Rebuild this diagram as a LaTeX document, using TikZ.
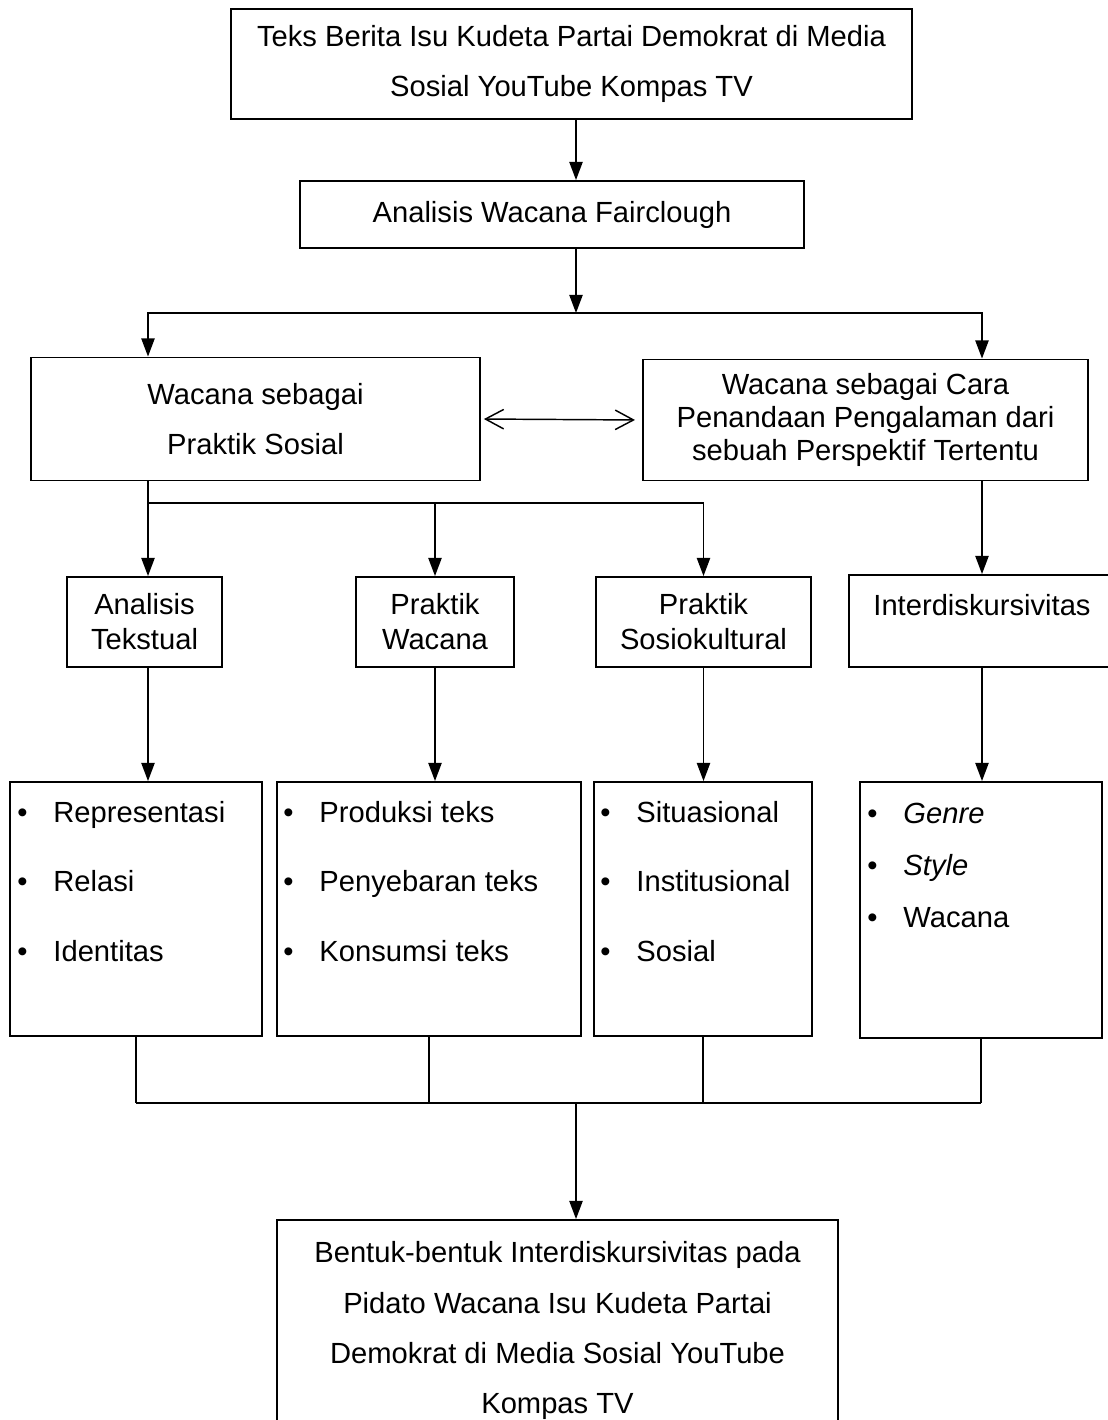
\documentclass[tikz,border=0pt]{standalone}
\usepackage{fontspec}
\setmainfont{Liberation Sans}
\usetikzlibrary{arrows.meta}

\newcommand*{\pxu}{0.4115pt}
\newcommand*{\bitem}[1]{\makebox[14.8pt][l]{\textbullet}#1}

\begin{document}
\begin{tikzpicture}
[
	x=0.4115pt,
	y=-0.4115pt,
	box/.style={draw,line width=0.8pt,inner sep=0pt,align=center,font=\fontsize{12}{20.6}\selectfont},
	item/.style={anchor=base west,inner sep=0pt,font=\fontsize{12}{14}\selectfont},
	conn/.style={line width=0.6pt},
	arr/.style={line width=0.6pt,-{Triangle[length=7.5pt,width=5.5pt]}},
	darr/.style={line width=0.6pt,{Straight Barb[length=7.5pt,width=8pt]}-{Straight Barb[length=7.5pt,width=8pt]}}
]

	\useasboundingbox (0,0) rectangle (1108,1420);

	% top boxes
	\node[box, minimum width=681*\pxu, minimum height=110*\pxu] (src) at (571.5,64)
		{Teks Berita Isu Kudeta Partai Demokrat di Media\\Sosial YouTube Kompas TV};
	\node[box, minimum width=504*\pxu, minimum height=67*\pxu] (fair) at (552,214.5)
		{Analisis Wacana Fairclough};

	% second level
	\node[box, minimum width=449*\pxu, minimum height=123*\pxu] (prsos) at (255.5,419)
		{Wacana sebagai\\Praktik Sosial};
	\node[box, font=\fontsize{12}{13.6}\selectfont, minimum width=445*\pxu, minimum height=121*\pxu] (cara) at (865.5,420)
		{Wacana sebagai Cara\\Penandaan Pengalaman dari\\sebuah Perspektif Tertentu};

	% third level
	\node[box, font=\fontsize{12}{14.4}\selectfont, minimum width=155*\pxu, minimum height=90*\pxu] (ana) at (144.5,622)
		{Analisis\\Tekstual};
	\node[box, font=\fontsize{12}{14.4}\selectfont, minimum width=158*\pxu, minimum height=90*\pxu] (pw) at (435,622)
		{Praktik\\Wacana};
	\node[box, font=\fontsize{12}{14.4}\selectfont, minimum width=215*\pxu, minimum height=90*\pxu] (ps) at (703.5,622)
		{Praktik\\Sosiokultural};
	\node[box, text height=8.6pt, text depth=13.2pt, minimum width=266*\pxu, minimum height=92*\pxu] (interd) at (982,621)
		{Interdiskursivitas};

	% list boxes
	\node[box, minimum width=252*\pxu, minimum height=254*\pxu] (rep) at (136,909) {};
	\node[box, minimum width=304*\pxu, minimum height=254*\pxu] (prod) at (429,909) {};
	\node[box, minimum width=218*\pxu, minimum height=254*\pxu] (sit) at (703,909) {};
	\node[box, minimum width=242*\pxu, minimum height=256*\pxu] (genre) at (981,910) {};

	\foreach \t [count=\i from 0] in {Representasi,Relasi,Identitas}
		\node[item] (rep\i) at (17,822+69.5*\i) {\bitem{\t}};
	\foreach \t [count=\i from 0] in {Produksi teks,Penyebaran teks,Konsumsi teks}
		\node[item] (prod\i) at (283,822+69.5*\i) {\bitem{\t}};
	\foreach \t [count=\i from 0] in {Situasional,Institusional,Sosial}
		\node[item] (sit\i) at (600,822+69.5*\i) {\bitem{\t}};
	\foreach \t [count=\i from 0] in {{\textit{Genre}},{\textit{Style}},Wacana}
		\node[item] (genre\i) at (867,823+52*\i) {\bitem{\t}};

	% result
	\node[box, minimum width=561*\pxu, minimum height=221*\pxu] (final) at (557.5,1330.5)
		{Bentuk-bentuk Interdiskursivitas pada\\Pidato Wacana Isu Kudeta Partai\\Demokrat di Media Sosial YouTube\\Kompas TV};

	% branch points
	\coordinate (split) at (576,313);
	\coordinate (fork) at (148,503);
	\coordinate (join) at (576,1103);

	% connectors
	\draw[arr] (src.south -| split) -- (fair.north -| split);
	\draw[arr] (fair.south -| split) -- (split);
	\draw[arr] (split) -| (prsos.north -| fork);
	\draw[arr] (split) -| (cara.north -| interd.north);
	\draw[darr, shorten <=1.2pt, shorten >=2.9pt] (prsos.east) -- (cara.west);

	\draw[arr] (prsos.south -| fork) -- (ana.north -| fork);
	\draw[arr] (fork) -| (ps.north);
	\draw[arr] (fork -| pw.north) -- (pw.north);
	\draw[arr] (cara.south -| interd.north) -- (interd.north);

	\draw[arr] (ana.south -| fork) -- (rep.north -| fork);
	\foreach \a/\b in {pw/prod,ps/sit,interd/genre}
		\draw[arr] (\a.south) -- (\b.north -| \a.south);

	\foreach \b in {rep,prod,sit,genre}
		\draw[conn] (\b.south) -- (\b.south |- join);
	\draw[conn] (rep.south |- join) -- (genre.south |- join);
	\draw[arr] (join) -- (final.north -| join);

\end{tikzpicture}
\end{document}
